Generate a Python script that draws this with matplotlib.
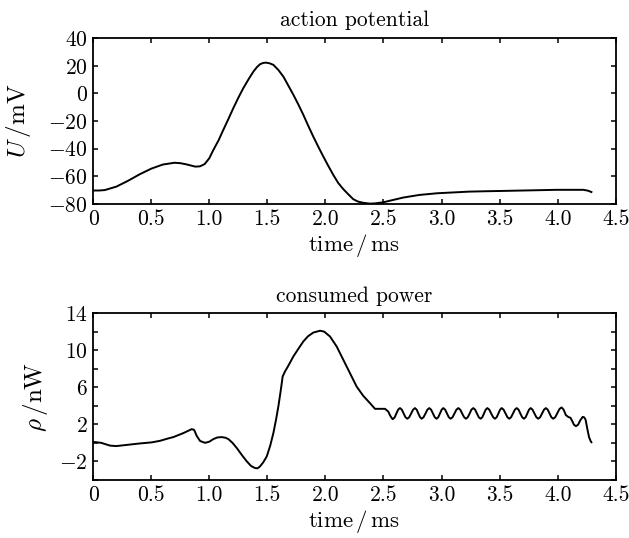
import matplotlib

matplotlib.use("Agg")
import matplotlib.pyplot as plt

# action potential
t_u = [0, 0.05, 0.1, 0.2, 0.3, 0.4, 0.5, 0.6, 0.7, 0.75, 0.8, 0.88, 0.92,
       0.96, 1.0, 1.035, 1.08, 1.121, 1.165, 1.207, 1.25, 1.293, 1.34, 1.38,
       1.41, 1.438, 1.465, 1.489, 1.52, 1.552, 1.595, 1.638, 1.68, 1.725,
       1.77, 1.81, 1.85, 1.896, 1.94, 1.982, 2.025, 2.068, 2.11, 2.154, 2.2,
       2.24, 2.28, 2.326, 2.384, 2.43, 2.5, 2.58, 2.67, 2.81, 2.96, 3.1, 3.24,
       3.4, 3.53, 3.7, 3.82, 3.99, 4.1, 4.22, 4.26, 4.29]
u_mv = [-70.3, -70.3, -70, -67.5, -63.3, -58.6, -54.5, -51.5, -50.2, -50.5,
        -51.3, -53, -52.8, -51.2, -47, -41, -34, -26.4, -18.5, -10.7, -3.2,
        3.8, 10.5, 15.8, 19, 21.2, 22.1, 22.3, 21.8, 20.7, 17, 12.2, 5.8,
        -1.1, -8.5, -15.5, -23, -31.3, -38.8, -45.7, -52.5, -59, -64.8,
        -69.3, -73.3, -76.6, -78.3, -79.2, -79.8, -79.6, -78.8, -77.2, -75.4,
        -73.5, -72.3, -71.7, -71.1, -70.8, -70.6, -70.3, -70.1, -69.8, -69.8,
        -69.8, -70.4, -71.4]

# consumed power
t_p = [0, 0.07, 0.146, 0.2, 0.304, 0.4, 0.505, 0.577, 0.648, 0.691, 0.777,
       0.849, 0.87, 0.892, 0.921, 0.964, 1.0, 1.035, 1.07, 1.107, 1.14,
       1.165, 1.2, 1.237, 1.28, 1.323, 1.36, 1.394, 1.415, 1.437, 1.465,
       1.495, 1.525, 1.552, 1.575, 1.595, 1.615, 1.632, 1.652, 1.68, 1.724,
       1.77, 1.81, 1.85, 1.896, 1.954, 1.99, 2.04, 2.097, 2.154, 2.212,
       2.269, 2.326, 2.384, 2.427, 2.513, 2.541, 2.557, 2.57, 2.579,
       2.595, 2.611, 2.626, 2.642, 2.658, 2.674, 2.689, 2.705,
       2.722, 2.738, 2.755, 2.771, 2.786, 2.800, 2.815, 2.829,
       2.845, 2.862, 2.878, 2.894, 2.910, 2.926, 2.941, 2.957,
       2.972, 2.986, 3.001, 3.015, 3.031, 3.047, 3.062, 3.078,
       3.095, 3.111, 3.128, 3.144, 3.161, 3.177, 3.194, 3.21,
       3.226, 3.242, 3.257, 3.273, 3.289, 3.305, 3.320, 3.336,
       3.351, 3.365, 3.380, 3.394, 3.411, 3.427, 3.444, 3.46,
       3.475, 3.489, 3.504, 3.518, 3.534, 3.551, 3.567, 3.583,
       3.599, 3.615, 3.631, 3.647, 3.663, 3.678, 3.694, 3.709,
       3.724, 3.738, 3.753, 3.767, 3.783, 3.800, 3.816, 3.832,
       3.849, 3.865, 3.882, 3.898, 3.914, 3.930, 3.945, 3.961,
       3.979, 3.997, 4.015, 4.033, 4.05, 4.07, 4.09, 4.11, 4.125, 4.14,
       4.157, 4.175, 4.195, 4.215, 4.228, 4.24, 4.255, 4.27, 4.285, 4.29]
p_nw = [0.1, 0.0, -0.3, -0.35, -0.2, -0.07, 0.05, 0.22, 0.48, 0.62, 1.05,
        1.48, 1.4, 0.75, 0.2, 0.0, 0.12, 0.4, 0.58, 0.62, 0.55, 0.4, 0.0,
        -0.56, -1.3, -2.0, -2.5, -2.72, -2.75, -2.55, -2.1, -1.47, -0.3,
        1.05, 2.5, 3.93, 5.6, 7.16, 7.7, 8.3, 9.32, 10.2, 10.94, 11.5, 11.9,
        12.1, 12.0, 11.47, 10.4, 8.96, 7.5, 6.07, 5.07, 4.28, 3.67, 3.67,
        3.38, 2.95, 2.7, 2.55,
        2.72, 3.17, 3.58, 3.75, 3.58, 3.17, 2.77, 2.6,
        2.77, 3.17, 3.58, 3.75, 3.58, 3.17, 2.77, 2.6,
        2.77, 3.17, 3.58, 3.75, 3.58, 3.17, 2.77, 2.6,
        2.77, 3.17, 3.58, 3.75, 3.58, 3.17, 2.77, 2.6,
        2.77, 3.17, 3.58, 3.75, 3.58, 3.17, 2.77, 2.6,
        2.77, 3.17, 3.58, 3.75, 3.58, 3.17, 2.77, 2.6,
        2.77, 3.17, 3.58, 3.75, 3.58, 3.17, 2.77, 2.6,
        2.77, 3.17, 3.58, 3.75, 3.58, 3.17, 2.77, 2.6,
        2.77, 3.17, 3.58, 3.75, 3.58, 3.17, 2.77, 2.6,
        2.77, 3.17, 3.58, 3.75, 3.58, 3.17, 2.77, 2.6,
        2.77, 3.17, 3.58, 3.75, 3.58, 3.17, 2.77, 2.6,
        2.77, 3.2, 3.65, 3.82, 3.6, 3.0, 2.8, 2.7, 2.35, 1.95,
        1.8, 1.95, 2.45, 2.8, 2.75, 2.5, 1.5, 0.6, 0.15, 0.07]

x_ticks = [0, 0.5, 1.0, 1.5, 2.0, 2.5, 3.0, 3.5, 4.0, 4.5]
x_ticklabels = ["0", "0.5", "1.0", "1.5", "2.0", "2.5", "3.0", "3.5", "4.0", "4.5"]
u_ticks = [-80, -60, -40, -20, 0, 20, 40]
u_ticklabels = ["$-80$", "$-60$", "$-40$", "$-20$", "$0$", "$20$", "$40$"]
p_ticks = [-4, -2, 0, 2, 4, 6, 8, 10, 12, 14]
p_ticklabels = ["", "$-2$", "", "$2$", "", "$6$", "", "$10$", "", "$14$"]

plt.rcParams["font.family"] = "serif"
plt.rcParams["font.serif"] = ["cmr10"]
plt.rcParams["mathtext.fontset"] = "cm"
plt.rcParams["axes.unicode_minus"] = False


def style_axes(ax):
    ax.tick_params(direction="in", top=True, right=True, length=3.5, width=1.1,
                   labelsize=15.5, pad=4)
    for spine in ax.spines.values():
        spine.set_linewidth(1.3)


fig = plt.figure(figsize=(6.29, 5.38), dpi=100)
ax_u = fig.add_axes([0.148, 0.621, 0.831, 0.308])
ax_p = fig.add_axes([0.148, 0.108, 0.831, 0.310])

ax_u.plot(t_u, u_mv, color="black", linewidth=1.4)
ax_u.set_xlim(0, 4.5)
ax_u.set_ylim(-80, 40)
ax_u.set_xticks(x_ticks)
ax_u.set_xticklabels(x_ticklabels)
ax_u.set_yticks(u_ticks)
ax_u.set_yticklabels(u_ticklabels)
ax_u.set_title("action potential", fontsize=15.5, pad=9)
ax_u.set_xlabel(r"time$\,/\,$ms", fontsize=16.5, labelpad=2)
ax_u.set_ylabel(r"$U\,/\mathrm{mV}$", fontsize=18)
ax_u.yaxis.set_label_coords(-0.115, 0.5)
style_axes(ax_u)

ax_p.plot(t_p, p_nw, color="black", linewidth=1.4)
ax_p.set_xlim(0, 4.5)
ax_p.set_ylim(-4, 14)
ax_p.set_xticks(x_ticks)
ax_p.set_xticklabels(x_ticklabels)
ax_p.set_yticks(p_ticks)
ax_p.set_yticklabels(p_ticklabels)
ax_p.set_title("consumed power", fontsize=15.5, pad=8)
ax_p.set_xlabel(r"time$\,/\,$ms", fontsize=16.5, labelpad=2)
ax_p.set_ylabel(r"$\rho\,/\mathrm{nW}$", fontsize=18)
ax_p.yaxis.set_label_coords(-0.082, 0.5)
style_axes(ax_p)

fig.savefig("out.png", dpi=100)
